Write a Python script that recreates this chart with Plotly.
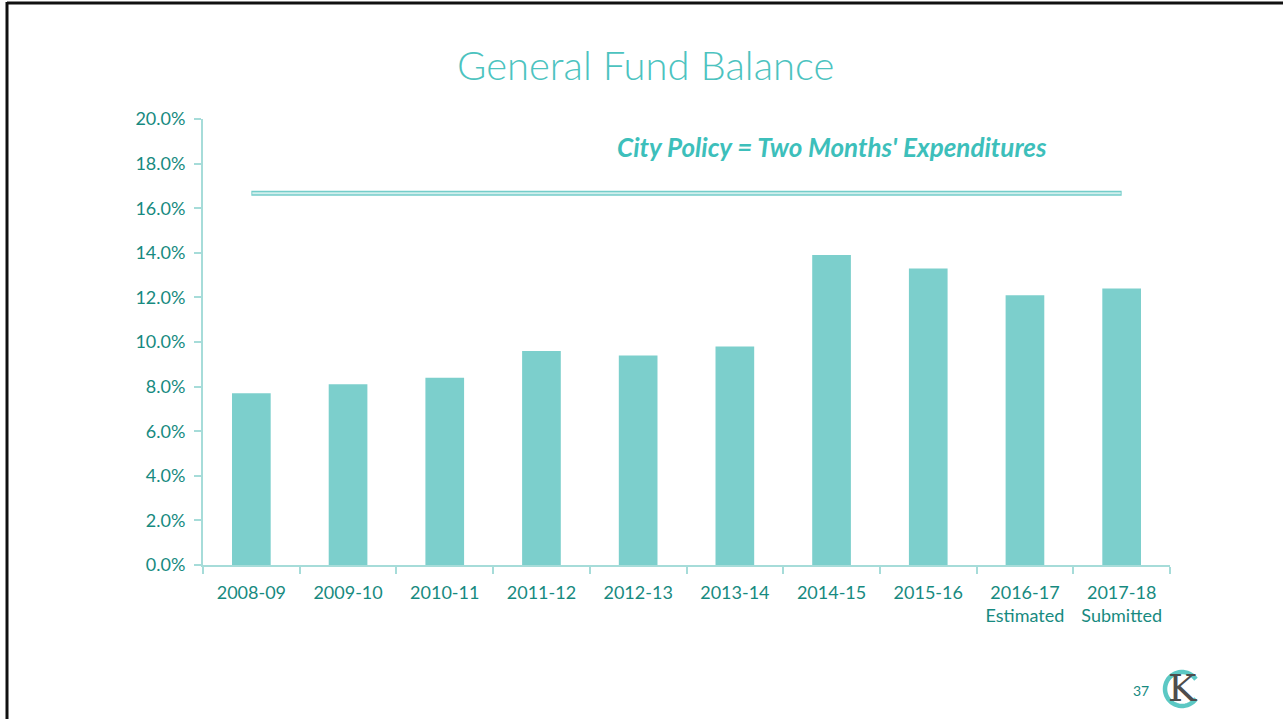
import math
import plotly.graph_objects as go

# Fiscal years and general fund balance as a share of expenditures (%)
years = ["2008-09", "2009-10", "2010-11", "2011-12", "2012-13",
         "2013-14", "2014-15", "2015-16", "2016-17<br>Estimated",
         "2017-18<br>Submitted"]
balance_pct = [7.7, 8.1, 8.4, 9.6, 9.4, 9.8, 13.9, 13.3, 12.1, 12.4]

# City policy target: two months of expenditures = 2/12 of the year
policy_pct = 2 / 12 * 100
y_ticks = [0, 2, 4, 6, 8, 10, 12, 14, 16, 18, 20]

W, H = 1283, 719
ML, MR, MT, MB = 203, 113, 119, 154
PW, PH = W - ML - MR, H - MT - MB


def px(x):
    return (x - ML) / PW


def py(y):
    return 1 - (y - MT) / PH


TEAL_TXT = "#178a80"
BAR = "#7ccfcc"
AXIS = "#a6dcd9"
FONT = "Lato"

fig = go.Figure()
fig.add_trace(go.Bar(
    x=list(range(len(years))), y=balance_pct, width=0.4,
    marker=dict(color=BAR, line=dict(width=0)),
    hoverinfo="skip",
))

# Policy reference line, drawn as an outlined band between first and last bar
fig.add_shape(type="line", xref="x", yref="y",
              x0=0, x1=len(years) - 1, y0=policy_pct, y1=policy_pct,
              line=dict(color="#74cdca", width=5))
fig.add_shape(type="line", xref="x", yref="y",
              x0=0.01, x1=len(years) - 1.01, y0=policy_pct, y1=policy_pct,
              line=dict(color="#d2efed", width=2))

# Slide frame
fig.add_shape(type="line", xref="paper", yref="paper",
              x0=px(7), x1=px(W + 5), y0=py(3), y1=py(3),
              line=dict(color="#111111", width=3))
fig.add_shape(type="line", xref="paper", yref="paper",
              x0=px(7), x1=px(7), y0=py(2), y1=py(H + 5),
              line=dict(color="#111111", width=3))

fig.add_annotation(text="General Fund Balance", xref="paper", yref="paper",
                   x=px(645), y=py(65), showarrow=False,
                   xanchor="center", yanchor="middle",
                   font=dict(family=FONT, size=40, color="#4cc3bf", weight=300))
fig.add_annotation(text="<b><i>City Policy = Two Months' Expenditures</i></b>",
                   xref="paper", yref="paper", x=px(832), y=py(147),
                   showarrow=False, xanchor="center", yanchor="middle",
                   font=dict(family=FONT, size=26, color="#3dbfbb"))
fig.add_annotation(text="37", xref="paper", yref="paper",
                   x=px(1141), y=py(690), showarrow=False,
                   xanchor="center", yanchor="middle",
                   font=dict(family=FONT, size=14, color=TEAL_TXT))

# KC mark: teal open arc behind a grey serif K
cx, cy, r = 1182, 689, 17
pts = []
for k in range(41):
    a = math.radians(35 + k * (290 / 40))
    pts.append((px(cx + r * math.cos(a)), py(cy - r * math.sin(a))))
arc = "M " + " L ".join(f"{x:.5f},{y:.5f}" for x, y in pts)
fig.add_shape(type="path", xref="paper", yref="paper", path=arc,
              line=dict(color="#5cc8c4", width=4.5))
fig.add_annotation(text="K", xref="paper", yref="paper",
                   x=px(1182), y=py(688), showarrow=False,
                   xanchor="center", yanchor="middle",
                   font=dict(family="DejaVu Serif", size=38, color="#4d4d4d"))

fig.update_layout(
    width=W, height=H,
    margin=dict(l=ML, r=MR, t=MT, b=MB),
    paper_bgcolor="white", plot_bgcolor="white",
    showlegend=False,
    bargap=0.6,
    font=dict(family=FONT, size=18, color=TEAL_TXT),
    xaxis=dict(
        range=[-0.5, len(years) - 0.5],
        tickmode="array", tickvals=list(range(len(years))), ticktext=years,
        showgrid=False, zeroline=False,
        showline=True, linecolor=AXIS, linewidth=2,
        ticks="", ticklabelstandoff=10,
        tickfont=dict(family=FONT, size=18, color=TEAL_TXT),
        minor=dict(tickmode="array",
                   tickvals=[i - 0.5 for i in range(len(years) + 1)],
                   ticks="outside", ticklen=7, tickcolor=AXIS, tickwidth=2),
        fixedrange=True,
    ),
    yaxis=dict(
        range=[0, 20], tickmode="array", tickvals=y_ticks,
        ticktext=[f"{v:.1f}%" for v in y_ticks],
        showgrid=False, zeroline=False,
        showline=True, linecolor=AXIS, linewidth=2,
        ticks="outside", ticklen=7, tickcolor=AXIS, tickwidth=2,
        ticklabelstandoff=5,
        tickfont=dict(family=FONT, size=18, color=TEAL_TXT),
        fixedrange=True,
    ),
)

fig.write_html("out.html")
